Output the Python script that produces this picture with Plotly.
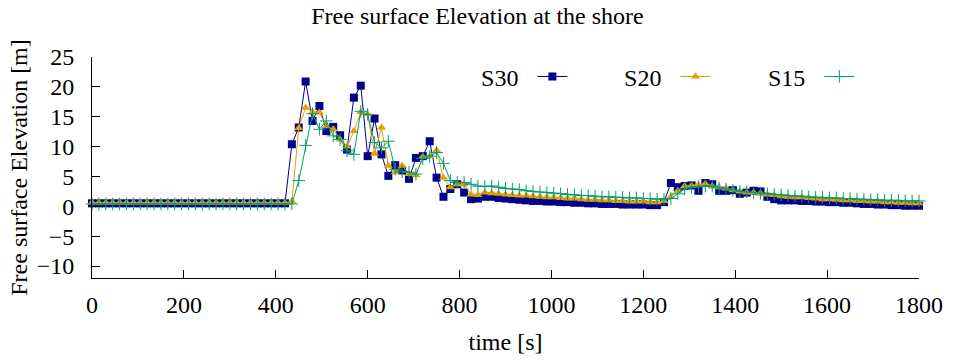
import plotly.graph_objects as go

# time grid [s] (every 15 s)
time_s = [0, 15, 30, 45, 60, 75, 90, 105, 120, 135, 150, 165, 180, 195, 210, 225, 240, 255, 270, 285,
          300, 315, 330, 345, 360, 375, 390, 405, 420, 435, 450, 465, 480, 495, 510, 525, 540, 555, 570, 585,
          600, 615, 630, 645, 660, 675, 690, 705, 720, 735, 750, 765, 780, 795, 810, 825, 840, 855, 870, 885,
          900, 915, 930, 945, 960, 975, 990, 1005, 1020, 1035, 1050, 1065, 1080, 1095, 1110, 1125, 1140, 1155, 1170, 1185,
          1200, 1215, 1230, 1245, 1260, 1275, 1290, 1305, 1320, 1335, 1350, 1365, 1380, 1395, 1410, 1425, 1440, 1455, 1470, 1485,
          1500, 1515, 1530, 1545, 1560, 1575, 1590, 1605, 1620, 1635, 1650, 1665, 1680, 1695, 1710, 1725, 1740, 1755, 1770, 1785,
          1800]

s30 = [0.5, 0.5, 0.5, 0.5, 0.5, 0.5, 0.5, 0.5, 0.5, 0.5, 0.5, 0.5, 0.5, 0.5, 0.5, 0.5, 0.5, 0.5, 0.5, 0.5,
       0.5, 0.5, 0.5, 0.5, 0.5, 0.5, 0.5, 0.5, 0.5, 10.4, 13.2, 20.9, 14.3, 16.8, 12.6, 13.3, 11.9, 9.5, 18.2, 20.2,
       8.4, 14.7, 8.7, 5.1, 6.9, 6.0, 4.6, 8.1, 8.4, 10.9, 4.8, 1.6, 2.9, 3.7, 2.3, 1.2, 1.3, 1.6, 1.6, 1.4,
       1.3, 1.2, 1.1, 1.0, 0.9, 0.9, 0.8, 0.8, 0.7, 0.7, 0.6, 0.6, 0.5, 0.5, 0.4, 0.4, 0.4, 0.3, 0.3, 0.3,
       0.3, 0.2, 0.2, 0.7, 3.9, 3.2, 3.4, 3.5, 2.6, 3.9, 3.7, 2.6, 2.6, 2.7, 2.1, 2.3, 2.6, 2.5, 1.6, 1.2,
       1.0, 1.0, 1.0, 0.9, 0.9, 0.8, 0.8, 0.7, 0.7, 0.6, 0.6, 0.5, 0.4, 0.4, 0.3, 0.3, 0.2, 0.2, 0.1, 0.1,
       0.1]

s20 = [0.6, 0.6, 0.6, 0.6, 0.6, 0.6, 0.6, 0.6, 0.6, 0.6, 0.6, 0.6, 0.6, 0.6, 0.6, 0.6, 0.6, 0.6, 0.6, 0.6,
       0.6, 0.6, 0.6, 0.6, 0.6, 0.6, 0.6, 0.6, 0.6, 0.8, 13.1, 16.5, 15.8, 15.7, 13.4, 12.9, 11.2, 10.0, 12.6, 15.8,
       15.4, 8.8, 13.2, 6.8, 5.7, 6.8, 5.4, 5.2, 8.3, 8.4, 9.4, 4.8, 3.2, 3.7, 3.7, 2.0, 1.9, 2.3, 2.2, 2.1,
       2.0, 1.9, 1.8, 1.8, 1.7, 1.6, 1.5, 1.5, 1.4, 1.3, 1.3, 1.2, 1.1, 1.1, 1.0, 1.0, 0.9, 0.9, 0.8, 0.8,
       0.8, 0.7, 0.7, 0.9, 1.6, 2.6, 3.4, 3.5, 3.6, 3.8, 3.4, 3.2, 3.0, 2.7, 2.5, 2.3, 2.3, 2.2, 2.0, 1.9,
       1.7, 1.6, 1.5, 1.5, 1.4, 1.3, 1.2, 1.2, 1.1, 1.0, 1.0, 0.9, 0.9, 0.8, 0.8, 0.7, 0.7, 0.6, 0.6, 0.5,
       0.5]

s15 = [0.4, 0.4, 0.4, 0.4, 0.4, 0.4, 0.4, 0.4, 0.4, 0.4, 0.4, 0.4, 0.4, 0.4, 0.4, 0.4, 0.4, 0.4, 0.4, 0.4,
       0.4, 0.4, 0.4, 0.4, 0.4, 0.4, 0.4, 0.4, 0.4, 0.4, 4.3, 10.2, 15.5, 12.9, 14.3, 11.8, 11.2, 9.3, 8.7, 15.9,
       15.4, 10.7, 9.8, 10.9, 6.2, 5.8, 5.7, 5.4, 8.0, 8.4, 9.0, 7.2, 4.3, 4.0, 4.0, 3.7, 3.4, 3.3, 3.4, 3.2,
       3.0, 2.9, 2.8, 2.6, 2.5, 2.4, 2.3, 2.2, 2.1, 2.0, 1.9, 1.8, 1.8, 1.7, 1.6, 1.6, 1.5, 1.5, 1.4, 1.4,
       1.3, 1.3, 1.2, 1.2, 1.3, 2.1, 2.9, 3.2, 3.3, 3.4, 3.4, 3.1, 2.9, 2.7, 2.5, 2.4, 2.3, 2.2, 2.1, 2.0,
       1.9, 1.8, 1.7, 1.7, 1.6, 1.5, 1.5, 1.4, 1.4, 1.3, 1.3, 1.2, 1.2, 1.1, 1.1, 1.0, 1.0, 1.0, 0.9, 0.9,
       0.9]

series_names = ["S30", "S20", "S15"]
x_ticks = [0, 200, 400, 600, 800, 1000, 1200, 1400, 1600, 1800]
y_ticks = [-10, -5, 0, 5, 10, 15, 20, 25]

FONT = "Liberation Serif, Times New Roman, serif"
FS = 24

fig = go.Figure()

fig.add_trace(go.Scatter(
    x=time_s, y=s30, mode="lines+markers", name="", legend="legend",
    line=dict(color="#00008b", width=1),
    marker=dict(symbol="square", size=8, color="#00008b"),
    cliponaxis=False,
))
fig.add_trace(go.Scatter(
    x=time_s, y=s20, mode="lines+markers", name="", legend="legend2",
    line=dict(color="#e69f00", width=1),
    marker=dict(symbol="triangle-up", size=8, color="#e69f00"),
    cliponaxis=False,
))
fig.add_trace(go.Scatter(
    x=time_s, y=s15, mode="lines+markers", name="", legend="legend3",
    line=dict(color="#009e73", width=1),
    marker=dict(symbol="cross-thin", size=9, color="#009e73",
                line=dict(color="#009e73", width=1)),
    cliponaxis=False,
))

def leg(xpos, title):
    return dict(
        x=xpos, y=0.91, xanchor="left", yanchor="middle",
        orientation="h", bgcolor="rgba(0,0,0,0)", borderwidth=0,
        title=dict(text=title + "\u00a0", side="left",
                   font=dict(family=FONT, size=FS, color="black")),
        font=dict(family=FONT, size=FS, color="black"),
        itemwidth=30,
    )

fig.update_layout(
    width=955, height=363,
    margin=dict(l=92, r=32, t=57, b=84),
    paper_bgcolor="white", plot_bgcolor="white",
    font=dict(family=FONT, size=FS, color="black"),
    title=dict(text="Free surface Elevation at the shore", x=0.5, xref="container",
               xanchor="center", y=0.958, yanchor="middle",
               font=dict(family=FONT, size=FS, color="black")),
    showlegend=True,
    legend=leg(0.468, series_names[0]),
    legend2=leg(0.641, series_names[1]),
    legend3=leg(0.815, series_names[2]),
    xaxis=dict(
        range=[0, 1800], tickvals=x_ticks, ticks="inside", ticklen=8, tickwidth=1,
        tickcolor="black", showline=True, linecolor="black", linewidth=1,
        mirror=False, showgrid=False, zeroline=False, ticklabelstandoff=5,
        title=dict(text="time [s]", font=dict(family=FONT, size=FS), standoff=16),
        tickfont=dict(family=FONT, size=FS),
    ),
    yaxis=dict(
        range=[-12, 25], tickvals=y_ticks, ticks="inside", ticklen=8, tickwidth=1,
        tickcolor="black", showline=True, linecolor="black", linewidth=1,
        mirror=False, showgrid=False, zeroline=False, ticklabelstandoff=12,
        title=dict(text="Free surface Elevation [m]", font=dict(family=FONT, size=FS), standoff=2),
        tickfont=dict(family=FONT, size=FS),
    ),
)

fig.write_html("out.html")
